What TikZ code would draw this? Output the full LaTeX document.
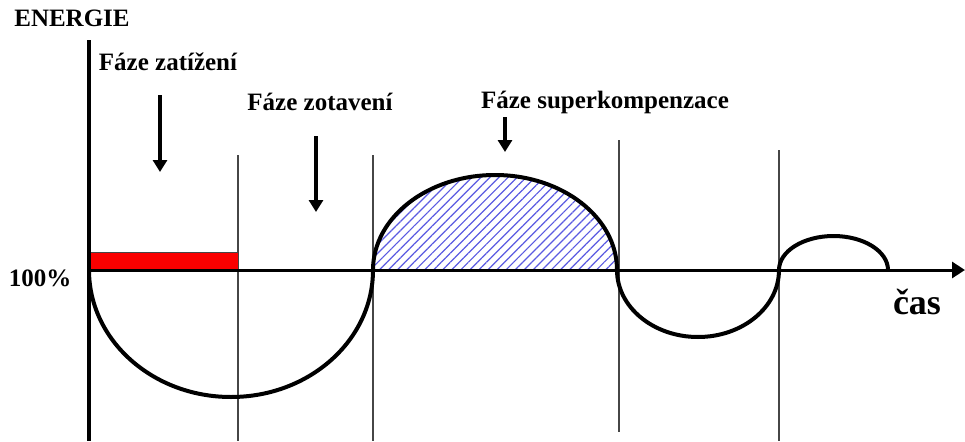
\documentclass[tikz,border=0pt]{standalone}
\usepackage{fontspec}
\setmainfont{Liberation Serif}
\definecolor{loadRed}{RGB}{250, 0, 0}
\definecolor{hatchBlue}{RGB}{90, 90, 225}
\definecolor{gridGray}{RGB}{70, 70, 70}
\usepackage{tikz}
\usetikzlibrary{arrows.meta, patterns.meta, calc}

\begin{document}
\begin{tikzpicture}[
    x=0.5pt, y=0.5pt,
    axis/.style={line width=1.5pt, black},
    phaseLine/.style={line width=0.8pt, gridGray},
    curve/.style={line width=2pt, black},
    phaseArrow/.style={-{Triangle[length=6pt, width=7pt]}, line width=2pt, black},
    phaseLabel/.style={font=\fontsize{12.5}{14}\selectfont\bfseries, inner sep=0pt},
  ]
    \useasboundingbox (0,0) rectangle (965,441);

    % Phase boundaries
    \foreach \x/\top/\bot in {238/286/0, 373/286/0, 619/301/9, 779/291/0} {
      \draw[phaseLine] (\x,\top) -- (\x,\bot);
    }

    % Load phase (red bar)
    \draw[draw=gridGray, line width=0.5pt, fill=loadRed] (89,171) rectangle (238,189);

    % Supercompensation (hatched)
    \fill[pattern={Lines[angle=45, distance=3.2pt, line width=0.6pt]}, pattern color=hatchBlue]
      (373,171) arc[start angle=180, end angle=0, x radius=122, y radius=95] -- cycle;

    % Axes
    \coordinate (O) at (89,171);
    \coordinate (yTop) at (89,401);
    \coordinate (yBot) at (89,0);
    \coordinate (xEnd) at (965,171);
    \draw[axis, -{Triangle[length=6.5pt, width=8pt]}] (O) -- (xEnd);
    \draw[line width=2pt] (yTop) -- (yBot);

    % Energy curve
    \draw[curve] (89,171) arc[start angle=180, end angle=360, x radius=142, y radius=127];
    \draw[curve] (373,171) arc[start angle=180, end angle=0, x radius=122, y radius=95];
    \draw[curve] (617,171) arc[start angle=180, end angle=360, x radius=81, y radius=67];
    \draw[curve] (779,171) arc[start angle=180, end angle=0, x radius=54.5, y radius=34];

    % Labels
    \node[phaseLabel] (energie) at (72,423) {ENERGIE};
    \node[phaseLabel] (pct) at (40,163) {100\%};
    \node[font=\fontsize{18}{20}\selectfont\bfseries, inner sep=0pt] (cas) at (917,139) {čas};
    \node[phaseLabel] (zat) at (168,379) {Fáze zatížení};
    \node[phaseLabel] (zot) at (320,339) {Fáze zotavení};
    \node[phaseLabel] (sup) at (605,339) {Fáze superkompenzace};

    % Phase arrows
    \coordinate (zatA) at (160,346);
    \coordinate (zatB) at (160,269);
    \coordinate (zotA) at (316,305);
    \coordinate (zotB) at (316,229);
    \coordinate (supA) at (505,324);
    \coordinate (supB) at (505,289);
    \draw[phaseArrow] (zatA) -- (zatB);
    \draw[phaseArrow] (zotA) -- (zotB);
    \draw[phaseArrow] (supA) -- (supB);
\end{tikzpicture}
\end{document}
